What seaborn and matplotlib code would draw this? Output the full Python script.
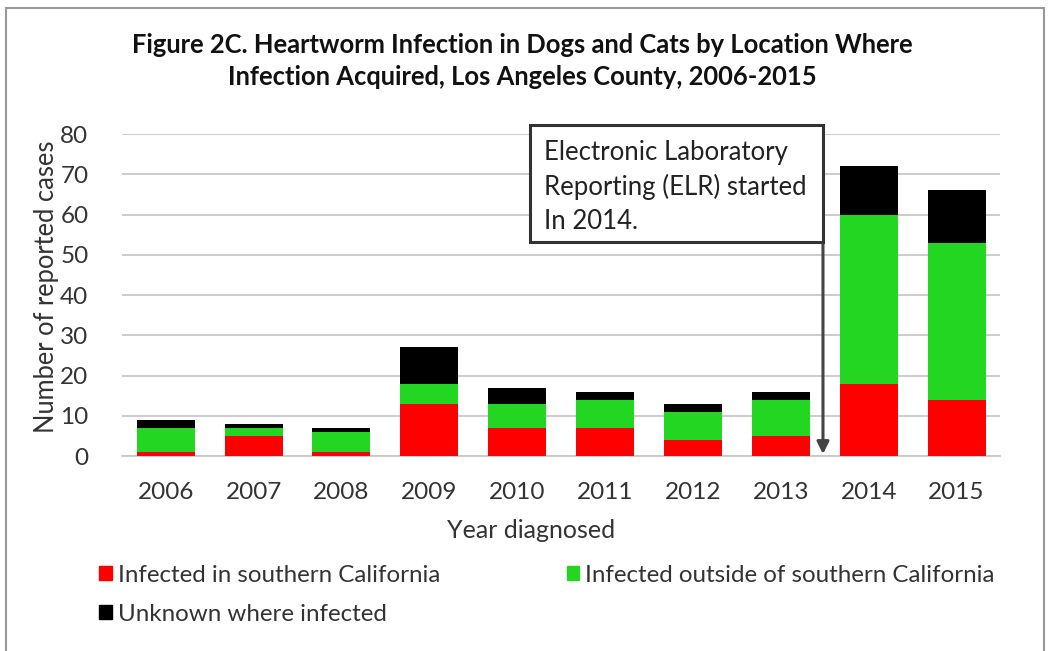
import numpy as np
import pandas as pd
import seaborn as sns
import matplotlib.pyplot as plt
from matplotlib.patches import Patch, Rectangle

# values
years = ['2006', '2007', '2008', '2009', '2010', '2011', '2012', '2013', '2014', '2015']
southern_ca = [1, 5, 1, 13, 7, 7, 4, 5, 18, 14]
outside_ca = [6, 2, 5, 5, 6, 7, 7, 9, 42, 39]
unknown = [2, 1, 1, 9, 4, 2, 2, 2, 12, 13]
y_ticks = [0, 10, 20, 30, 40, 50, 60, 70, 80]

RED = '#ff0000'
GREEN = '#22d622'
BLACK = '#000000'
TXT = '#333333'

sns.set_theme(style='white')
plt.rcParams['font.family'] = ['Lato', 'DejaVu Sans']

df = pd.DataFrame({'year': years, 'south': southern_ca, 'outside': outside_ca, 'unknown': unknown})
df['lvl1'] = df['south']
df['lvl2'] = df['south'] + df['outside']
df['lvl3'] = df['lvl2'] + df['unknown']

fig = plt.figure(figsize=(10.5, 6.51), dpi=100)
ax = fig.add_axes([0.116, 0.2995, 0.836, 0.4946])

# stacked bars drawn as cumulative totals, tallest first
for col, color in [('lvl3', BLACK), ('lvl2', GREEN), ('lvl1', RED)]:
    sns.barplot(data=df, x='year', y=col, color=color, width=0.66,
                saturation=1, ax=ax, zorder=3, linewidth=0)

ax.set_ylim(0, 80)
ax.set_xlim(-0.5, 9.49)
ax.set_yticks(y_ticks)
ax.yaxis.grid(True, color='#c8c8c8', linewidth=1.3, zorder=0)
ax.set_axisbelow(True)
for s in ['left', 'right', 'top']:
    ax.spines[s].set_visible(False)
ax.spines['bottom'].set_color('#c8c8c8')
ax.spines['bottom'].set_linewidth(1.3)
ax.tick_params(axis='both', length=0, labelsize=17.5, colors=TXT)
ax.tick_params(axis='y', pad=24)
ax.tick_params(axis='x', pad=19)
ax.set_xlabel('Year diagnosed', fontsize=18, color=TXT)
ax.xaxis.set_label_coords((531 - 122) / 878, -0.195)
ax.set_ylabel('Number of reported cases', fontsize=18.4, color=TXT)
ax.yaxis.set_label_coords(-0.071, 0.525)

# ELR annotation box with arrow from its lower right corner
ax.add_patch(Rectangle((4.14, 53.2), 3.34, 29.0, facecolor='white', edgecolor='#333333',
                       linewidth=2.2, zorder=5, clip_on=False))
ax.text(4.31, 78.6, 'Electronic Laboratory\nReporting (ELR) started\nIn 2014.',
        fontsize=18.5, color='#222222', va='top', ha='left', linespacing=1.45, zorder=6)
ax.annotate('', xy=(7.48, 0.5), xytext=(7.48, 53.2),
            arrowprops=dict(arrowstyle='-|>', color='#444444', lw=2.2, mutation_scale=18,
                            shrinkA=0, shrinkB=0),
            zorder=4)

fig.text(0.497, 0.907, 'Figure 2C. Heartworm Infection in Dogs and Cats by Location Where\n'
         'Infection Acquired, Los Angeles County, 2006-2015',
         ha='center', va='center', fontsize=18.4, fontweight='bold', linespacing=1.4,
         color='#111111')

handles = [Patch(color=RED, label='Infected in southern California'),
           Patch(color=BLACK, label='Unknown where infected'),
           Patch(color=GREEN, label='Infected outside of southern California')]
fig.legend(handles=handles, loc='upper left', bbox_to_anchor=(0.074, 0.166), ncol=2,
           frameon=False, fontsize=17.4, handlelength=0.5, handleheight=0.5,
           handletextpad=0.25, columnspacing=5.25, labelspacing=0.75,
           labelcolor=TXT)

# outer border
fig.patches.append(Rectangle((0.006, -0.01), 0.988, 0.997, transform=fig.transFigure,
                             fill=False, edgecolor='#999999', linewidth=1.5))

fig.savefig('out.png', dpi=100)
